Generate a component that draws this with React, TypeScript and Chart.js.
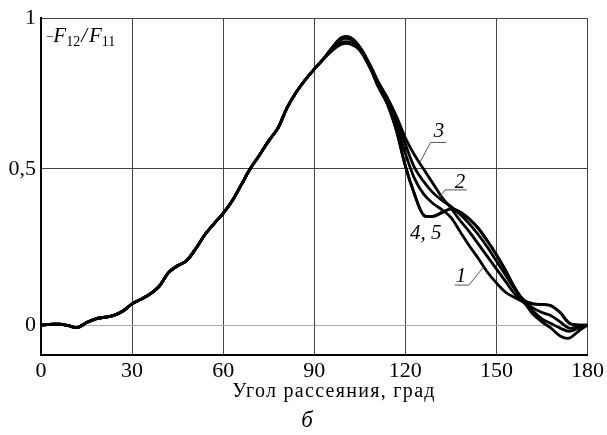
import React, { useEffect, useRef } from "react";
import { Chart, registerables } from "chart.js";

Chart.register(...registerables);

// Scattering angle (deg) – shared part of all curves
const commonAngles = [0, 3, 6, 9, 12, 15, 18, 21, 24, 27, 30, 33, 36, 39, 42, 45, 48, 51, 54, 57, 60, 63, 66, 69, 72, 75, 78, 81, 84, 87, 90, 93];
const commonValues = [0, 0.002, 0.003, -0.002, -0.008, 0.008, 0.02, 0.025, 0.031, 0.045, 0.068, 0.083, 0.1, 0.125, 0.168, 0.19, 0.207, 0.245, 0.29, 0.325, 0.358, 0.398, 0.45, 0.502, 0.545, 0.59, 0.63, 0.695, 0.745, 0.785, 0.82, 0.852];

// Diverging part
const tailAngles = [96, 99, 102, 105, 108, 111, 114, 117, 120, 123, 126, 129, 132, 135, 138, 141, 144, 147, 150, 153, 156, 159, 162, 165, 168, 171, 174, 177, 180];
const tail1 = [0.88, 0.9, 0.9, 0.88, 0.83, 0.775, 0.72, 0.645, 0.55, 0.47, 0.42, 0.39, 0.37, 0.345, 0.3, 0.255, 0.214, 0.17, 0.135, 0.105, 0.088, 0.072, 0.035, 0.01, -0.01, -0.035, -0.042, -0.02, 0];
const tail2 = [0.885, 0.905, 0.905, 0.885, 0.84, 0.78, 0.725, 0.66, 0.58, 0.505, 0.46, 0.425, 0.4, 0.38, 0.355, 0.325, 0.29, 0.25, 0.205, 0.16, 0.115, 0.078, 0.055, 0.04, 0.03, 0.01, -0.01, -0.005, 0];
const tail3 = [0.885, 0.915, 0.915, 0.89, 0.84, 0.78, 0.73, 0.67, 0.6, 0.545, 0.5, 0.455, 0.41, 0.375, 0.335, 0.3, 0.26, 0.22, 0.18, 0.14, 0.1, 0.075, 0.045, 0.02, 0.005, -0.01, -0.02, -0.01, 0];
const tail4 = [0.89, 0.92, 0.92, 0.89, 0.835, 0.765, 0.71, 0.625, 0.51, 0.42, 0.352, 0.348, 0.36, 0.372, 0.362, 0.34, 0.31, 0.27, 0.225, 0.175, 0.12, 0.08, 0.068, 0.066, 0.062, 0.04, 0.006, 0, 0];
const tail5 = [0.89, 0.92, 0.92, 0.89, 0.835, 0.765, 0.71, 0.625, 0.51, 0.42, 0.352, 0.348, 0.36, 0.372, 0.362, 0.34, 0.31, 0.27, 0.225, 0.175, 0.12, 0.08, 0.068, 0.066, 0.062, 0.04, 0.006, 0, 0];

const yTickValues = [0, 0.5, 0.983];
const yTickLabels = ["0", "0,5", "1"];

const SERIF = "'Liberation Serif', 'DejaVu Serif', serif";

function buildSeries(tail: number[]) {
  return [
    ...commonAngles.map((a, i) => ({ x: a, y: commonValues[i] })),
    ...tailAngles.map((a, i) => ({ x: a, y: tail[i] })),
  ];
}

const annotations = {
  id: "annotations",
  afterDatasetsDraw(chart: any) {
    const ctx = chart.ctx;
    const xs = chart.scales.x;
    const ys = chart.scales.y;
    const X = (d: number) => xs.getPixelForValue(d);
    const Y = (v: number) => ys.getPixelForValue(v);
    ctx.save();
    // leader lines
    ctx.strokeStyle = "#555";
    ctx.lineWidth = 1;
    const seg = (pts: number[][]) => {
      ctx.beginPath();
      pts.forEach((p, i) => {
        const px = X(p[0]);
        const py = Y(p[1]);
        if (i === 0) ctx.moveTo(px, py);
        else ctx.lineTo(px, py);
      });
      ctx.stroke();
    };
    seg([[133.5, 0.585], [128.3, 0.585], [124.7, 0.519]]);
    seg([[140.3, 0.433], [133.1, 0.433], [131.1, 0.408]]);
    seg([[136.3, 0.128], [140.9, 0.128], [145.7, 0.185]]);

    ctx.fillStyle = "#000";
    ctx.font = `italic 21px ${SERIF}`;
    ctx.textAlign = "center";
    ctx.textBaseline = "middle";
    ctx.fillText("3", X(131.1), Y(0.62));
    ctx.fillText("2", X(138.0), Y(0.456));
    ctx.fillText("4, 5", X(126.7), Y(0.293));
    ctx.fillText("1", X(138.3), Y(0.156));

    // y-axis label -F12/F11
    const ca = chart.chartArea;
    let x = ca.left + 5;
    const base = ca.top + 24;
    ctx.textAlign = "left";
    ctx.textBaseline = "alphabetic";
    const put = (t: string, font: string, dy = 0) => {
      ctx.font = font;
      ctx.fillText(t, x, base + dy);
      x += ctx.measureText(t).width;
    };
    put("\u2212", `13px ${SERIF}`, -1);
    put("F", `italic 21px ${SERIF}`);
    put("12", `14px ${SERIF}`, 4);
    x += 1;
    put("/", `italic 21px ${SERIF}`);
    x += 2;
    put("F", `italic 21px ${SERIF}`);
    put("11", `14px ${SERIF}`, 4);

    // x-axis title and figure letter
    ctx.textAlign = "center";
    ctx.font = `20px ${SERIF}`;
    (ctx as any).letterSpacing = "1.3px";
    ctx.fillText("Угол рассеяния, град", 334, 397);
    (ctx as any).letterSpacing = "0px";
    ctx.font = `italic 23px ${SERIF}`;
    ctx.fillText("б", 307, 427);
    ctx.restore();
  },
};

export default function App() {
  const ref = useRef<HTMLCanvasElement>(null);
  useEffect(() => {
    if (!ref.current) return;
    const series = [tail1, tail2, tail3, tail4, tail5];
    const chart = new Chart(ref.current, {
      type: "line",
      data: {
        datasets: series.map((t, i) => ({
          label: String(i + 1),
          data: buildSeries(t),
          borderColor: "#000",
          borderWidth: 2.8,
          pointRadius: 0,
          tension: 0.35,
          fill: false,
        })),
      },
      options: {
        animation: false,
        responsive: true,
        maintainAspectRatio: false,
        layout: { padding: { top: 13, right: 9, left: 0, bottom: 0 } },
        plugins: { legend: { display: false }, tooltip: { enabled: false } },
        scales: {
          x: {
            type: "linear",
            min: 0,
            max: 180,
            ticks: {
              stepSize: 30,
              color: "#000",
              font: { family: SERIF, size: 22 },
              padding: 3,
              maxRotation: 0,
            },
            grid: { color: "#444", lineWidth: 1, drawTicks: false },
            border: { color: "#000", width: 2 },
            afterFit(s: any) {
              s.height = 80;
            },
          },
          y: {
            type: "linear",
            min: -0.096,
            max: 0.983,
            afterBuildTicks(s: any) {
              s.ticks = yTickValues.map((v) => ({ value: v }));
            },
            ticks: {
              color: "#000",
              font: { family: SERIF, size: 22 },
              padding: 5,
              callback: (v: any) => {
                const i = yTickValues.indexOf(Number(v));
                return i >= 0 ? yTickLabels[i] : "";
              },
            },
            grid: {
              color: (c: any) => (c.tick && c.tick.value === 0 ? "#aaa" : "#444"),
              lineWidth: 1,
              drawTicks: false,
            },
            border: { color: "#000", width: 2 },
            afterFit(s: any) {
              s.width = 41;
            },
          },
        },
      },
      plugins: [annotations],
    });
    return () => chart.destroy();
  }, []);
  return (
    <div style={{ position: "fixed", left: 0, top: 0, width: 607, height: 435, background: "#fff" }}>
      <canvas ref={ref} />
    </div>
  );
}
